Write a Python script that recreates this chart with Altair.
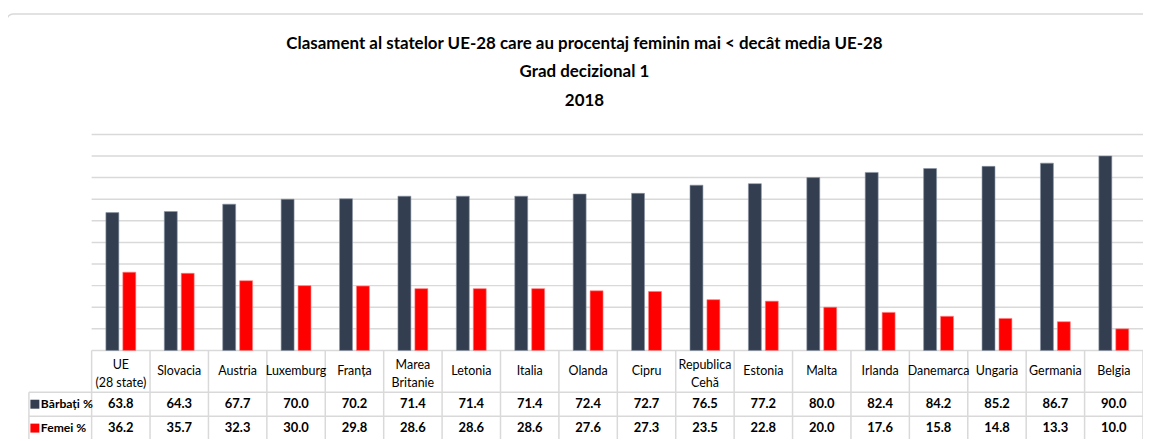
import altair as alt
import pandas as pd

countries = ["UE\n(28 state)", "Slovacia", "Austria", "Luxemburg", "Franța",
             "Marea\nBritanie", "Letonia", "Italia", "Olanda", "Cipru",
             "Republica\nCehă", "Estonia", "Malta", "Irlanda", "Danemarca",
             "Ungaria", "Germania", "Belgia"]
barbati = [63.8, 64.3, 67.7, 70.0, 70.2, 71.4, 71.4, 71.4, 72.4, 72.7,
           76.5, 77.2, 80.0, 82.4, 84.2, 85.2, 86.7, 90.0]
femei = [36.2, 35.7, 32.3, 30.0, 29.8, 28.6, 28.6, 28.6, 27.6, 27.3,
         23.5, 22.8, 20.0, 17.6, 15.8, 14.8, 13.3, 10.0]
series = ["Bărbați %", "Femei %"]
colors = ["#333F50", "#FF0000"]
title_lines = ["Clasament al statelor UE-28 care au procentaj feminin mai < decât media UE-28",
               "Grad decizional 1", "2018"]
grid_values = list(range(0, 101, 10))

W, H = 1056, 217
FONT = "Lato"
GRID = "#d9d9d9"

df = pd.DataFrame({"country": countries, "B": barbati, "F": femei})
xscale = alt.Scale(paddingInner=0, paddingOuter=0)
xenc = alt.X("country:N", sort=countries, axis=None, scale=xscale)
yscale = alt.Scale(domain=[0, 100], nice=False)

base = alt.Chart(df)

grid = alt.Chart(pd.DataFrame({"g": grid_values})).mark_rule(
    color=GRID, strokeWidth=1.5).encode(
    y=alt.Y("g:Q", scale=yscale, axis=None), x=alt.value(0), x2=alt.value(W))

bars_b = base.mark_bar(size=13, xOffset=-8.5, color=colors[0],
                       stroke="#8a94a3", strokeWidth=0.6).encode(
    x=xenc, y=alt.Y("B:Q", scale=yscale, axis=None))
bars_f = base.mark_bar(size=13, xOffset=8.5, color=colors[1],
                       stroke="#ff8080", strokeWidth=0.6).encode(
    x=xenc, y=alt.Y("F:Q", scale=yscale, axis=None))

header = base.transform_calculate(
    ly="238 - (length(split(datum.country, '\\n')) - 1) * 6"
).mark_text(font=FONT, fontSize=12.5, color="#000", lineBreak="\n",
            lineHeight=18, baseline="middle").encode(
    x=xenc, y=alt.Y("ly:Q", scale=None), text="country:N")
val_b = base.mark_text(font=FONT, fontSize=13, fontWeight="bold", color="#000",
                       baseline="middle").encode(
    x=xenc, y=alt.value(271), text=alt.Text("B:Q", format=".1f"))
val_f = base.mark_text(font=FONT, fontSize=13, fontWeight="bold", color="#000",
                       baseline="middle").encode(
    x=xenc, y=alt.value(295), text=alt.Text("F:Q", format=".1f"))

vlines = base.mark_rule(color=GRID, strokeWidth=1.5).encode(
    x=alt.X("country:N", sort=countries, axis=None, bandPosition=0, scale=xscale),
    y=alt.value(H), y2=alt.value(330))
one = pd.DataFrame({"a": [0]})
vline_end = alt.Chart(one).mark_rule(color=GRID, strokeWidth=1.5).encode(
    x=alt.value(W), y=alt.value(H), y2=alt.value(330))

hlines = alt.Chart(pd.DataFrame({"yy": [259, 283]})).mark_rule(
    color=GRID, strokeWidth=1.5).encode(
    x=alt.value(-63), x2=alt.value(W), y=alt.Y("yy:Q", scale=None))
vleft = alt.Chart(one).mark_rule(color=GRID, strokeWidth=1.5).encode(
    x=alt.value(-63), y=alt.value(259), y2=alt.value(330))

leg_df = pd.DataFrame({"s": series, "c": colors, "yy": [271, 295]})
leg_sq = alt.Chart(leg_df).mark_square(size=81, opacity=1).encode(
    x=alt.value(-57), y=alt.Y("yy:Q", scale=None),
    color=alt.Color("c:N", scale=None))
leg_tx = alt.Chart(leg_df).mark_text(font=FONT, fontSize=12.2, fontWeight="bold",
                                     align="left", baseline="middle", color="#000").encode(
    x=alt.value(-51), y=alt.Y("yy:Q", scale=None), text="s:N")

border = alt.Chart(one).mark_rect(
    fill=None, stroke=GRID, strokeWidth=1.5, cornerRadius=6).encode(
    x=alt.value(-85), x2=alt.value(W + 40), y=alt.value(-121), y2=alt.value(400))

title_df = pd.DataFrame({"t": title_lines, "yy": [-91, -63, -34]})
title = alt.Chart(title_df).mark_text(font=FONT, fontSize=17, fontWeight="bold",
                                      color="#000", baseline="middle", align="center").encode(
    x=alt.value(495), y=alt.Y("yy:Q", scale=None), text="t:N")

chart = alt.layer(border, grid, bars_b, bars_f, vlines, vline_end, hlines, vleft,
                  header, val_b, val_f, leg_sq, leg_tx, title).properties(
    width=W, height=H,
    padding={"left": 84, "top": 126, "right": 0, "bottom": 88},
    autosize=alt.AutoSizeParams(type="none"),
    background="white",
).configure_view(stroke=None)

chart.save("out.html", embed_options={"renderer": "svg", "actions": False})
